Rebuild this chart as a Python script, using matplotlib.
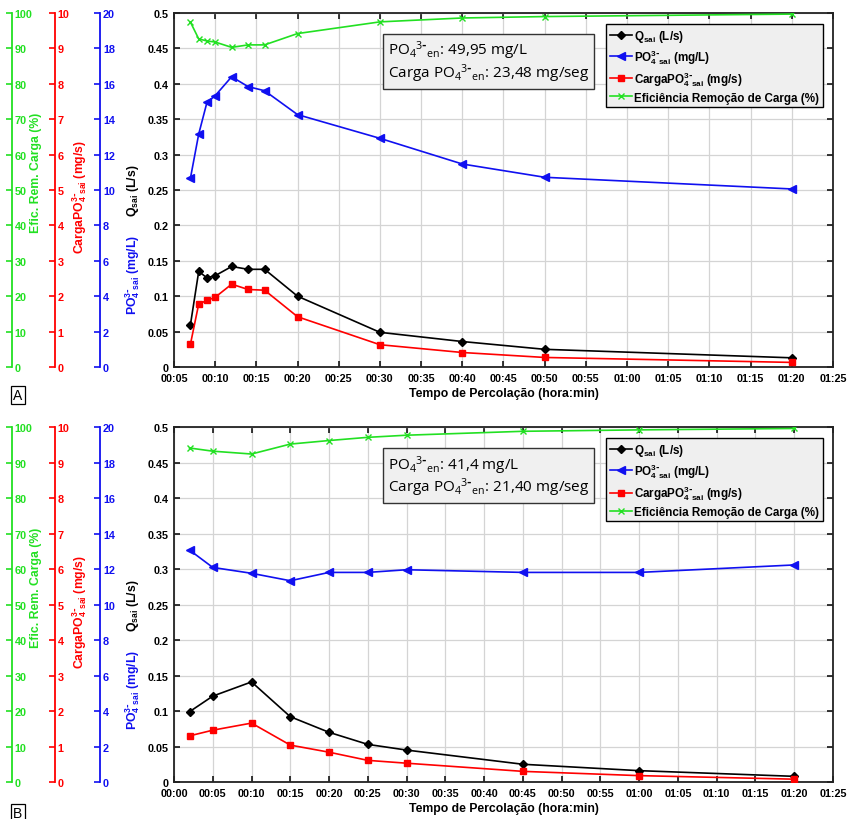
import matplotlib
matplotlib.use('Agg')
import matplotlib.pyplot as plt
from matplotlib.ticker import FuncFormatter, MultipleLocator

plt.rcParams['font.family'] = ['Liberation Sans', 'DejaVu Sans']
plt.rcParams['font.weight'] = 'bold'
plt.rcParams['mathtext.default'] = 'regular'

# ---- panel A data (time in minutes) ----
t_a = [7, 8, 9, 10, 12, 14, 16, 20, 30, 40, 50, 80]
q_a = [0.060, 0.135, 0.126, 0.129, 0.142, 0.138, 0.138, 0.100, 0.049, 0.036, 0.025, 0.013]
po4_a = [10.68, 13.16, 14.95, 15.33, 16.40, 15.84, 15.61, 14.26, 12.92, 11.47, 10.72, 10.06]
carga_a = [0.65, 1.78, 1.88, 1.97, 2.34, 2.19, 2.17, 1.42, 0.63, 0.41, 0.27, 0.13]
efic_a = [97.4, 92.7, 92.1, 91.8, 90.3, 91.0, 91.0, 94.2, 97.5, 98.6, 99.0, 99.7]
info_a = ['49,95 mg/L', '23,48 mg/seg']

# ---- panel B data ----
t_b = [2, 5, 10, 15, 20, 25, 30, 45, 60, 80]
q_b = [0.099, 0.121, 0.141, 0.092, 0.070, 0.053, 0.045, 0.025, 0.016, 0.008]
po4_b = [13.07, 12.09, 11.76, 11.34, 11.81, 11.81, 11.96, 11.81, 11.81, 12.23]
carga_b = [1.30, 1.46, 1.66, 1.04, 0.84, 0.61, 0.53, 0.30, 0.18, 0.08]
efic_b = [94.1, 93.2, 92.4, 95.2, 96.2, 97.1, 97.7, 98.8, 99.2, 99.6]
info_b = ['41,4 mg/L', '21,40 mg/seg']

GREEN = '#22e022'
RED = '#ff0000'
BLUE = '#1010f0'
FS = 7.8
SUP = r'$^{3\text{-}}$'
STACK = r'$^{3\text{-}}_{4\ sai}$'


def hhmm(v, pos):
    v = int(round(v))
    return '%02d:%02d' % (v // 60, v % 60)


def extra_axis(ax, pos, color, top, step, label, lab_xy):
    tw = ax.twinx()
    for s in ['top', 'bottom', 'left']:
        tw.spines[s].set_visible(False)
    tw.spines['right'].set_position(('axes', pos))
    tw.spines['right'].set_color(color)
    tw.spines['right'].set_linewidth(1.3)
    tw.set_ylim(0, top)
    tw.yaxis.set_major_locator(MultipleLocator(step))
    tw.tick_params(axis='y', direction='in', colors=color, labelsize=FS,
                   length=4, width=1.2, pad=2)
    for lb in tw.get_yticklabels():
        lb.set_fontweight('bold')
    tw.set_ylabel(label, color=color, fontsize=8.8, fontweight='bold')
    tw.yaxis.set_label_coords(*lab_xy)
    return tw


def draw_panel(rect, t, q, po4, carga, efic, xmin, info, letter, letter_y):
    ax = fig.add_axes(rect)
    ax.set_xlim(xmin, 85)
    ax.set_ylim(0, 0.5)
    ax.xaxis.set_major_locator(MultipleLocator(5))
    ax.yaxis.set_major_locator(MultipleLocator(0.05))
    ax.xaxis.set_major_formatter(FuncFormatter(hhmm))
    ax.yaxis.set_major_formatter(FuncFormatter(lambda v, p: '%g' % round(v, 2)))
    ax.grid(True, color='#d4d4d4', linewidth=0.9)
    ax.set_axisbelow(True)
    for s in ax.spines.values():
        s.set_linewidth(1.3)
        s.set_color('#222222')
    ax.set_xlabel('Tempo de Percolação (hora:min)', fontsize=8.8, fontweight='bold',
                  labelpad=3)
    ax.set_ylabel('Q$_{sai}$ (L/s)', fontsize=8.8, fontweight='bold')

    l1, = ax.plot(t, q, '-D', color='black', lw=1.2, ms=4.5,
                  label='Q$_{sai}$ (L/s)')

    tb = extra_axis(ax, -0.112, BLUE, 20, 2, 'PO' + STACK + ' (mg/L)', (-0.077, 0.263))
    l2, = tb.plot(t, po4, '-<', color=BLUE, lw=1.2, ms=5.5,
                  label='PO' + STACK + ' (mg/L)')
    tr = extra_axis(ax, -0.181, RED, 10, 1, 'CargaPO' + STACK + ' (mg/s)', (-0.158, 0.483))
    l3, = tr.plot(t, carga, '-s', color=RED, lw=1.2, ms=4.5,
                  label='CargaPO' + STACK + ' (mg/s)')
    tg = extra_axis(ax, -0.246, GREEN, 100, 10, 'Efic. Rem. Carga (%)', (-0.218, 0.55))
    l4, = tg.plot(t, efic, '-x', color=GREEN, lw=1.2, ms=4.5, mew=1.0,
                  label='Eficiência Remoção de Carga (%)')

    ax.tick_params(direction='in', top=True, right=True, labelsize=FS,
                   length=4, width=1.1, pad=4)
    for lb in ax.get_xticklabels() + ax.get_yticklabels():
        lb.set_fontweight('bold')
    ax.yaxis.set_label_coords(-0.05, 0.5)

    leg = tg.legend(handles=[l1, l2, l3, l4], loc='upper right',
                    bbox_to_anchor=(0.993, 0.985),
                    handlelength=1.9, handletextpad=0.2, labelspacing=0.3,
                    borderpad=0.3, fancybox=False, framealpha=1,
                    facecolor='#efefef', edgecolor='black',
                    prop={'weight': 'bold', 'size': 8.4})
    leg.get_frame().set_linewidth(1.0)

    txt = ('PO$_4$' + SUP + '$_{en}$: ' + info[0] + '\n'
           'Carga PO$_4$' + SUP + '$_{en}$: ' + info[1])
    tg.text(0.324, 0.927, txt, transform=ax.transAxes, ha='left', va='top',
            fontsize=11, fontweight='normal', family=['Open Sans', 'DejaVu Sans'],
            linespacing=1.0,
            bbox=dict(boxstyle='square,pad=0.3', facecolor='#f0f0f0',
                      edgecolor='#333333', linewidth=1.0))

    fig.text(0.021, letter_y, letter, fontsize=10, fontweight='normal',
             ha='center', va='center',
             bbox=dict(boxstyle='square,pad=0.15', facecolor='white',
                       edgecolor='black', linewidth=0.9))
    return ax


fig = plt.figure(figsize=(8.5, 8.2), dpi=100)
draw_panel([0.2047, 0.5512, 0.7753, 0.4317], t_a, q_a, po4_a, carga_a, efic_a,
           5, info_a, 'A', 1 - 396 / 820)
draw_panel([0.2047, 0.0451, 0.7753, 0.4329], t_b, q_b, po4_b, carga_b, efic_b,
           0, info_b, 'B', 1 - 814 / 820)

fig.savefig('out.png', dpi=100)
